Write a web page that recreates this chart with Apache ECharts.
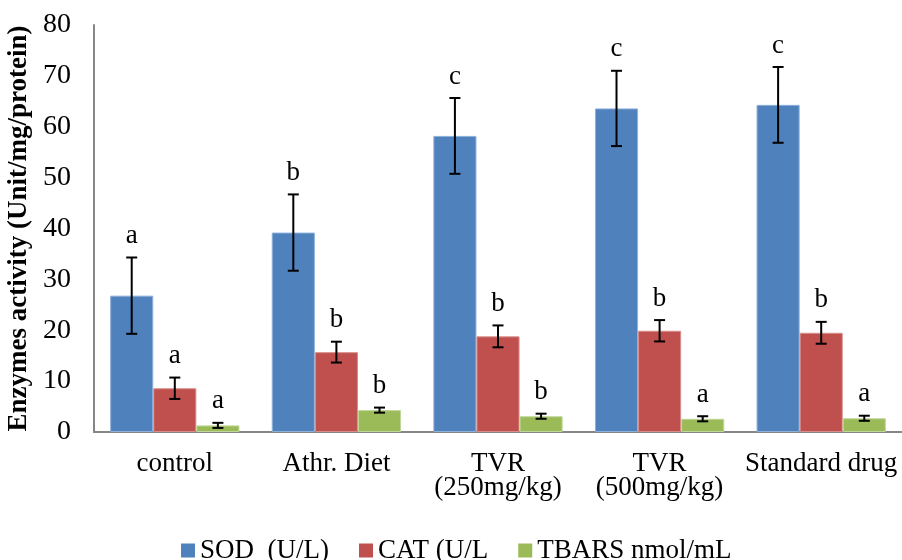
<!DOCTYPE html>
<html>
<head>
<meta charset="utf-8">
<script src="https://cdn.jsdelivr.net/npm/echarts@6/dist/echarts.min.js"></script>
<style>
  html, body { margin: 0; padding: 0; background: #fff; }
  #chart { width: 902px; height: 560px; }
</style>
</head>
<body>
<div id="chart"></div>
<script>
// groups on the x axis
var groups = ['control', 'Athr. Diet', 'TVR\n(250mg/kg)', 'TVR\n(500mg/kg)', 'Standard drug'];
var seriesNames = ['SOD  (U/L)', 'CAT (U/L', 'TBARS nmol/mL'];
var colors = ['#4F81BD', '#C0504D', '#9BBB59'];
var edges = ['#8DB0DA', '#D88E8B', '#C0D69A'];

// means
var sod = [26.8, 39.2, 58.2, 63.6, 64.3];
var cat = [8.6, 15.7, 18.8, 19.9, 19.5];
var tbars = [1.3, 4.3, 3.1, 2.6, 2.7];

// error (half bar length)
var sodErr = [7.5, 7.5, 7.45, 7.4, 7.45];
var catErr = [2.1, 2.05, 2.15, 2.1, 2.15];
var tbarsErr = [0.5, 0.5, 0.5, 0.5, 0.5];

// significance letters
var sodLetters = ['a', 'b', 'c', 'c', 'c'];
var catLetters = ['a', 'b', 'b', 'b', 'b'];
var tbarsLetters = ['a', 'b', 'b', 'a', 'a'];

var yTicks = { min: 0, max: 80, step: 10 };

var FONT = '"Liberation Serif", "Times New Roman", serif';
var catGap = 0.2;

function errSeries(k, means, errs, letters) {
  var data = means.map(function (v, i) { return [i, v, errs[i]]; });
  return {
    type: 'custom',
    name: seriesNames[k] + ' err',
    data: data,
    z: 10,
    silent: true,
    renderItem: function (params, api) {
      var i = api.value(0), m = api.value(1), e = api.value(2);
      var band = api.size([1, 0])[0];
      var bw = band * (1 - catGap) / 3;
      var c = api.coord([i, m]);
      var x = c[0] + (k - 1) * bw;
      var top = api.coord([i, m + e])[1];
      var bot = api.coord([i, m - e])[1];
      var half = 5.5;
      var st = { stroke: '#000', lineWidth: 2 };
      return {
        type: 'group',
        children: [
          { type: 'line', shape: { x1: x, y1: top, x2: x, y2: bot }, style: st },
          { type: 'line', shape: { x1: x - half, y1: top, x2: x + half, y2: top }, style: st },
          { type: 'line', shape: { x1: x - half, y1: bot, x2: x + half, y2: bot }, style: st },
          { type: 'text', x: x, y: top - 8,
            style: { text: letters[i], font: '27px ' + FONT, fill: '#000',
                     align: 'center', verticalAlign: 'bottom' } }
        ]
      };
    }
  };
}

function barSeries(k, values) {
  var s = {
    type: 'bar',
    name: seriesNames[k],
    data: values,
    itemStyle: { color: colors[k], borderColor: edges[k], borderWidth: 1 }
  };
  if (k === 0) { s.barGap = '0%'; s.barCategoryGap = (catGap * 100) + '%'; }
  return s;
}

var chart = echarts.init(document.getElementById('chart'));
chart.setOption({
  backgroundColor: '#fff',
  animation: false,
  grid: { left: 94, right: 0, top: 25, bottom: 128, outerBoundsMode: 'none', containLabel: false },
  legend: {
    data: seriesNames.map(function (n, k) { return { name: n, itemStyle: { borderWidth: 0 } }; }),
    top: 532,
    left: 176,
    icon: 'rect',
    itemWidth: 14,
    itemHeight: 14,
    itemGap: 30,
    textStyle: { fontFamily: FONT, fontSize: 27, color: '#000' }
  },
  xAxis: {
    type: 'category',
    data: groups,
    axisLine: { lineStyle: { color: '#868686', width: 2 } },
    axisTick: { show: false },
    axisLabel: { fontFamily: FONT, fontSize: 27, color: '#000', margin: 20, lineHeight: 24, interval: 0 }
  },
  yAxis: {
    type: 'value',
    min: yTicks.min, max: yTicks.max, interval: yTicks.step,
    name: 'Enzymes activity (Unit/mg/protein)',
    nameLocation: 'middle',
    nameGap: 58,
    nameTextStyle: { fontFamily: FONT, fontSize: 27, fontWeight: 'bold', color: '#000' },
    axisLine: { show: true, lineStyle: { color: '#868686', width: 2 } },
    axisTick: { show: false },
    splitLine: { show: false },
    axisLabel: { fontFamily: FONT, fontSize: 28, color: '#000', margin: 23 }
  },
  series: [
    barSeries(0, sod),
    barSeries(1, cat),
    barSeries(2, tbars),
    errSeries(0, sod, sodErr, sodLetters),
    errSeries(1, cat, catErr, catLetters),
    errSeries(2, tbars, tbarsErr, tbarsLetters)
  ]
});
</script>
</body>
</html>
